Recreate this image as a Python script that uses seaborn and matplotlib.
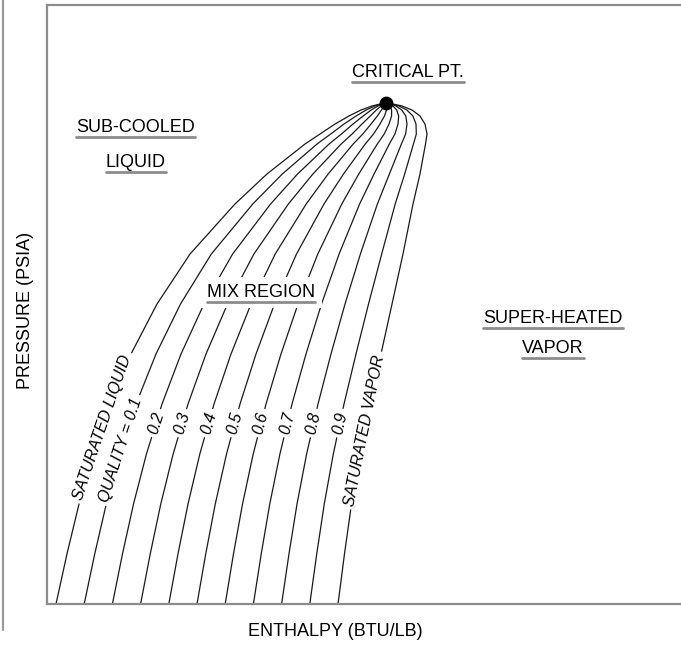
import numpy as np
import pandas as pd
import seaborn as sns
import matplotlib
matplotlib.use("Agg")
from matplotlib import pyplot as plt
from matplotlib.lines import Line2D

# saturation dome (pressure levels shared by both sides)
pressure = [0, 8.35, 16.69, 25.04, 33.39, 41.74, 50.08, 58.43, 66.78, 71.79,
            76.79, 78.46, 80.13, 81.47, 82.47, 83.14, 83.47, 83.64]
h_liquid = [1.42, 3.15, 5.05, 7.26, 9.94, 13.25, 17.35, 22.56, 29.65, 34.70,
            40.69, 43.06, 45.43, 47.63, 49.53, 51.26, 52.52, 53.47]
h_vapor = [45.90, 46.92, 48.03, 49.37, 50.95, 52.68, 54.42, 56.15, 57.73, 58.83,
           59.70, 59.94, 59.62, 58.83, 57.57, 55.99, 54.57, 53.47]
qualities = [0.1, 0.2, 0.3, 0.4, 0.5, 0.6, 0.7, 0.8, 0.9]
critical_h, critical_p = 53.47, 83.64

sns.set_theme(style="white")
plt.rcParams["font.family"] = ["Liberation Sans", "DejaVu Sans"]

# one long table: saturated liquid, quality lines, saturated vapor
hl = np.array(h_liquid)
hv = np.array(h_vapor)
curves = {"liquid": hl}
for q in qualities:
    curves[str(q)] = (1 - q) * hl + q * hv
curves["vapor"] = hv
frames = [pd.DataFrame({"h": h, "P": pressure, "curve": name}) for name, h in curves.items()]
df = pd.concat(frames, ignore_index=True)

fig = plt.figure(figsize=(6.81, 6.45), dpi=100)
ax = fig.add_axes([47 / 681, 41 / 645, 634 / 681, 599 / 645])
sns.lineplot(data=df, x="h", y="P", units="curve", estimator=None, sort=False,
             color="#1a1a1a", linewidth=0.9, legend=False, ax=ax)
ax.scatter([critical_h], [critical_p], s=80, color="black", zorder=5)

ax.set_xlim(0, 100)
ax.set_ylim(0, 100)
ax.set_xticks([])
ax.set_yticks([])
ax.set_xlabel("")
ax.set_ylabel("")
for side in ["left", "top", "bottom"]:
    ax.spines[side].set_color("#8c8c8c")
    ax.spines[side].set_linewidth(1.6)
ax.spines["right"].set_visible(False)

fig.add_artist(Line2D([3 / 681, 3 / 681], [1.0, 1 - 630 / 645], color="#9a9a9a", lw=1.6))

fig.text(335 / 681, 1 - 632 / 645, "ENTHALPY (BTU/LB)", ha="center", va="center",
         fontsize=13, color="black")
fig.text(26 / 681, 1 - 310 / 645, "PRESSURE (PSIA)", ha="center", va="center",
         rotation=90, fontsize=13, color="black")

# region labels with a grey underline
region_labels = [
    ("SUB-COOLED", 14.0, 78.8, False),
    ("LIQUID", 14.0, 73.0, False),
    ("CRITICAL PT.", 56.9, 88.0, False),
    ("MIX REGION", 33.8, 51.3, True),
    ("SUPER-HEATED", 79.8, 46.9, False),
    ("VAPOR", 79.8, 41.9, False),
]
texts = []
for s, x, y, boxed in region_labels:
    kw = {}
    if boxed:
        kw["bbox"] = dict(facecolor="white", edgecolor="none", pad=5)
    t = ax.text(x, y, s, ha="center", va="baseline", fontsize=13, color="black", zorder=6, **kw)
    texts.append(t)


def curve_label(h_curve, p_at, s):
    x = np.interp(p_at, pressure, h_curve)
    x2 = np.interp(p_at + 2, pressure, h_curve)
    p0 = ax.transData.transform((x, p_at))
    p1 = ax.transData.transform((x2, p_at + 2))
    ang = np.degrees(np.arctan2(p1[1] - p0[1], p1[0] - p0[0]))
    ax.text(x, p_at, s, rotation=ang, rotation_mode="anchor", ha="center", va="center",
            fontsize=11.5, style="italic", color="black", zorder=6,
            bbox=dict(facecolor="white", edgecolor="none", pad=2.5))


curve_label(curves["liquid"], 29.5, "SATURATED LIQUID")
curve_label(curves["0.1"], 25.7, "QUALITY = 0.1")
for q in qualities[1:]:
    curve_label(curves[str(q)], 30.2, str(q))
curve_label(curves["vapor"], 29.0, "SATURATED VAPOR")

fig.canvas.draw()
renderer = fig.canvas.get_renderer()
for t in texts:
    bb = t.get_window_extent(renderer)
    yb = ax.transData.transform(t.get_position())[1] - 5
    fig.add_artist(Line2D([bb.x0 / fig.bbox.width, bb.x1 / fig.bbox.width],
                          [yb / fig.bbox.height, yb / fig.bbox.height],
                          color="#8c8c8c", lw=2.0, zorder=7))

fig.savefig("out.png", dpi=100)
